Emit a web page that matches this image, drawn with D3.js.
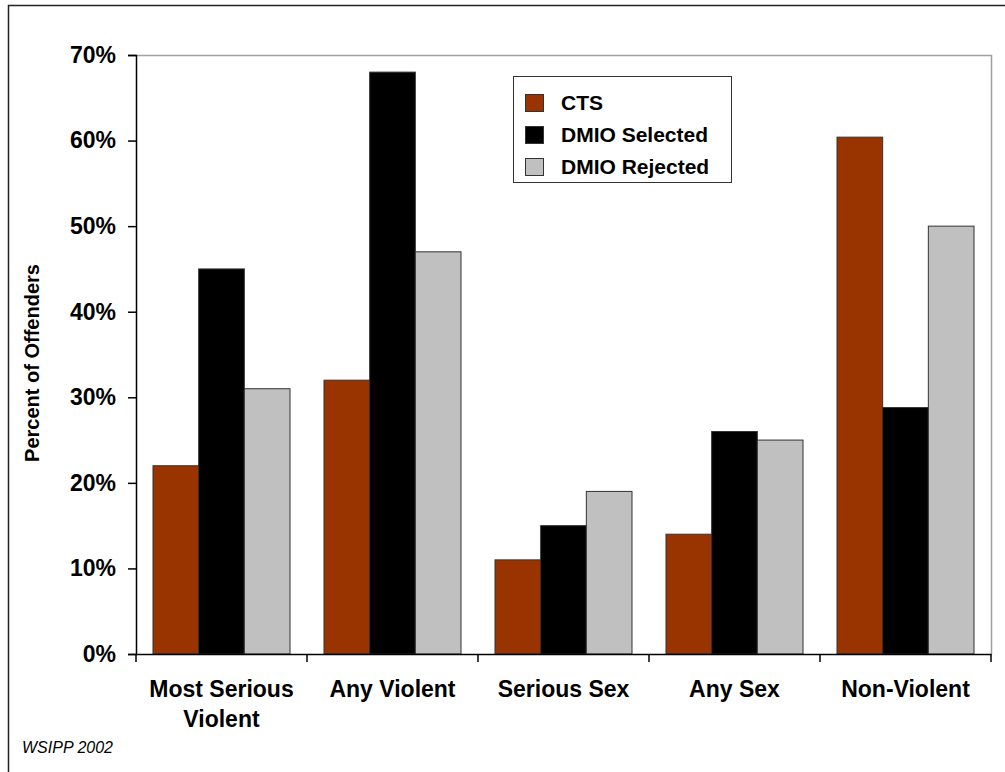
<!DOCTYPE html>
<html>
<head>
<meta charset="utf-8">
<script src="https://cdn.jsdelivr.net/npm/d3@7"></script>
<style>
  html, body { margin: 0; padding: 0; background: #fff; }
  svg { display: block; font-family: Arial, "Liberation Sans", sans-serif; }
</style>
</head>
<body>
<svg id="chart" width="1005" height="772"></svg>
<script>
// Offence categories along the x axis (label lines)
const categories = ["Most Serious Violent", "Any Violent", "Serious Sex", "Any Sex", "Non-Violent"];
const categoryLines = [["Most Serious", "Violent"], ["Any Violent"], ["Serious Sex"], ["Any Sex"], ["Non-Violent"]];

// Series names and percentages of offenders per category
const seriesNames = ["CTS", "DMIO Selected", "DMIO Rejected"];
const ctsValues = [22, 32, 11, 14, 60.4];
const dmioSelectedValues = [45, 68, 15, 26, 28.8];
const dmioRejectedValues = [31, 47, 19, 25, 50];
const seriesColors = ["#993300", "#000000", "#C0C0C0"];

// Y axis ticks
const yTicks = [0, 10, 20, 30, 40, 50, 60, 70];

const series = [ctsValues, dmioSelectedValues, dmioRejectedValues];

const svg = d3.select("#chart");
const plot = { left: 136, right: 991, top: 55, bottom: 654 };

// Outer frame
svg.append("rect")
  .attr("x", 8.5).attr("y", 5.5)
  .attr("width", 1010).attr("height", 800)
  .attr("fill", "none").attr("stroke", "#222").attr("stroke-width", 1.5);

const y = d3.scaleLinear().domain([0, 70]).range([plot.bottom, plot.top]);

// Plot area border (top and right in grey)
svg.append("path")
  .attr("d", `M${plot.left},${plot.top + 0.5}H${plot.right + 0.5}V${plot.bottom}`)
  .attr("fill", "none").attr("stroke", "#a0a0a0").attr("stroke-width", 1.5);

// Category bands; the three bars fill each band with a 17px margin either side
const xGroup = d3.scaleBand().domain(categories).range([plot.left, plot.right]);
const xBar = d3.scaleBand().domain(seriesNames).range([17, xGroup.bandwidth() - 17]);

const groups = svg.append("g").selectAll("g")
  .data(categories)
  .join("g")
  .attr("transform", d => `translate(${xGroup(d)},0)`);

groups.selectAll("rect")
  .data((c, i) => seriesNames.map((s, j) => ({ s, j, v: series[j][i] })))
  .join("rect")
  .attr("x", d => xBar(d.s))
  .attr("width", xBar.bandwidth())
  .attr("y", d => y(d.v))
  .attr("height", d => y(0) - y(d.v))
  .attr("fill", d => seriesColors[d.j])
  .attr("stroke", "#333")
  .attr("stroke-width", 1);

// Y axis
const yAxis = d3.axisLeft(y).tickValues(yTicks).tickFormat(d => d + "%").tickSize(8).tickPadding(12);
const gy = svg.append("g").attr("transform", `translate(${plot.left},0)`).call(yAxis);
gy.select(".domain").attr("stroke", "#000").attr("stroke-width", 1.5);
gy.selectAll(".tick line").attr("stroke", "#000").attr("stroke-width", 1.5);
gy.selectAll(".tick text").attr("font-size", 23).attr("font-weight", "bold").attr("fill", "#000")
  .attr("font-family", "Arial, 'Liberation Sans', sans-serif");

// X axis baseline and category separators
const xAxis = d3.axisBottom(xGroup).tickSize(0).tickFormat("");
const gx = svg.append("g").attr("transform", `translate(0,${plot.bottom})`).call(xAxis);
gx.select(".domain").attr("stroke", "#000").attr("stroke-width", 1.5);
const edges = categories.map(c => xGroup(c)).concat([plot.right]);
gx.selectAll("line.sep").data(edges).join("line").attr("class", "sep")
  .attr("x1", d => d).attr("x2", d => d).attr("y1", 0).attr("y2", 8)
  .attr("stroke", "#000").attr("stroke-width", 1.5);

// Category labels
const labels = svg.append("g").selectAll("text")
  .data(categories)
  .join("text")
  .attr("x", d => xGroup(d) + xGroup.bandwidth() / 2)
  .attr("y", 697)
  .attr("text-anchor", "middle")
  .attr("font-size", 23).attr("font-weight", "bold");
labels.selectAll("tspan")
  .data((d, i) => categoryLines[i])
  .join("tspan")
  .attr("x", function () { return d3.select(this.parentNode).attr("x"); })
  .attr("dy", (d, i) => i === 0 ? 0 : 30)
  .text(d => d);

// Y axis title
svg.append("text")
  .attr("transform", "translate(39,363) rotate(-90)")
  .attr("text-anchor", "middle")
  .attr("font-size", 20).attr("font-weight", "bold")
  .text("Percent of Offenders");

// Legend
const legend = svg.append("g");
legend.append("rect")
  .attr("x", 513.5).attr("y", 76.5).attr("width", 218).attr("height", 106)
  .attr("fill", "#fff").attr("stroke", "#333").attr("stroke-width", 1);
seriesNames.forEach((name, i) => {
  const base = 110 + i * 32;
  legend.append("rect")
    .attr("x", 525.5).attr("y", base - 15.5).attr("width", 18).attr("height", 17)
    .attr("fill", seriesColors[i]).attr("stroke", "#333").attr("stroke-width", 1);
  legend.append("text")
    .attr("x", 561).attr("y", base)
    .attr("font-size", 21).attr("font-weight", "bold")
    .text(name);
});

// Source note
svg.append("text")
  .attr("x", 22).attr("y", 753)
  .attr("font-size", 16).attr("font-style", "italic")
  .text("WSIPP 2002");
</script>
</body>
</html>
